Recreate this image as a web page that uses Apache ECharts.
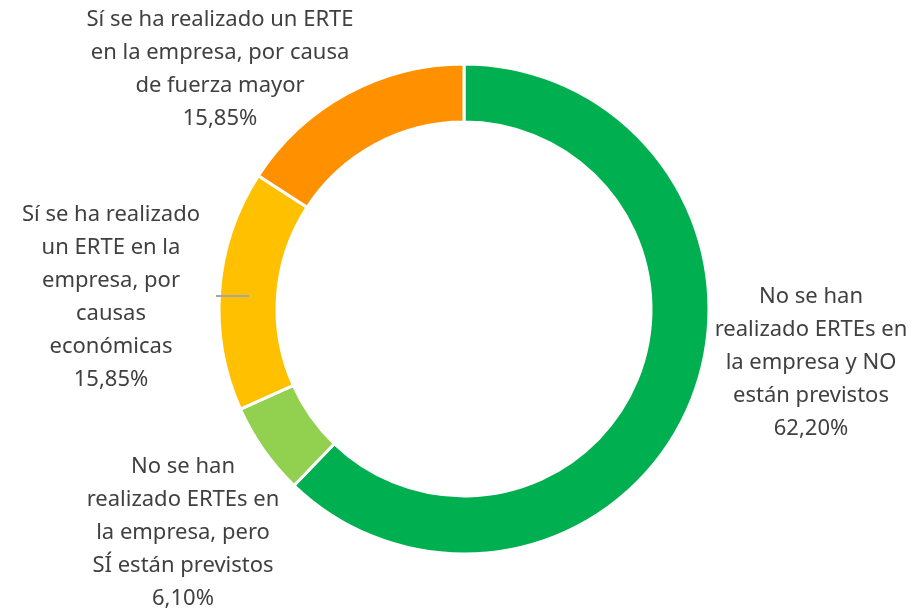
<!DOCTYPE html>
<html>
<head>
<meta charset="utf-8">
<script src="https://cdn.jsdelivr.net/npm/echarts@6/dist/echarts.min.js"></script>
<style>
  html, body { margin: 0; padding: 0; background: #fff; }
  #chart { width: 916px; height: 613px; }
</style>
</head>
<body>
<div id="chart"></div>
<script>
// categories, clockwise from 12 o'clock
const categories = [
  'No se han\nrealizado ERTEs en\nla empresa y NO\nestán previstos',
  'No se han\nrealizado ERTEs en\nla empresa, pero\nSÍ están previstos',
  'Sí se ha realizado\nun ERTE en la\nempresa, por\ncausas\neconómicas',
  'Sí se ha realizado un ERTE\nen la empresa, por causa\nde fuerza mayor'
]
const values = [62.2, 6.1, 15.85, 15.85]
const colors = ['#00B050', '#92D050', '#FFC000', '#FF9100']

// where each label block is centred (layout only)
const labelPos = [
  [811, 363],
  [183, 533],
  [111, 297],
  [220, 69]
]

const chart = echarts.init(document.getElementById('chart'), null, { renderer: 'canvas' })

const fmt = (v) => v.toFixed(2).replace('.', ',') + '%'

chart.setOption({
  animation: false,
  // the little grey leader stub next to the yellow slice
  graphic: [
    {
      type: 'line',
      shape: { x1: 216, y1: 296, x2: 249, y2: 296 },
      style: { stroke: '#A6A6A6', lineWidth: 2 },
      z: 100
    }
  ],
  series: [
    {
      type: 'pie',
      center: [464, 309],
      radius: [187, 245],
      startAngle: 90,
      clockwise: true,
      itemStyle: {
        borderColor: '#fff',
        borderWidth: 3
      },
      label: {
        show: true,
        position: 'outside',
        color: '#404040',
        fontFamily: 'Noto Sans',
        fontSize: 22,
        lineHeight: 33,
        align: 'center',
        overflow: 'none',
        formatter: (p) => p.name + '\n' + fmt(p.value)
      },
      labelLine: { show: false },
      labelLayout: (params) => {
        const pos = labelPos[params.dataIndex]
        return {
          x: pos[0],
          y: pos[1],
          align: 'center',
          verticalAlign: 'middle'
        }
      },
      data: categories.map((name, i) => ({
        name: name,
        value: values[i],
        itemStyle: { color: colors[i] }
      }))
    }
  ]
})
</script>
</body>
</html>
